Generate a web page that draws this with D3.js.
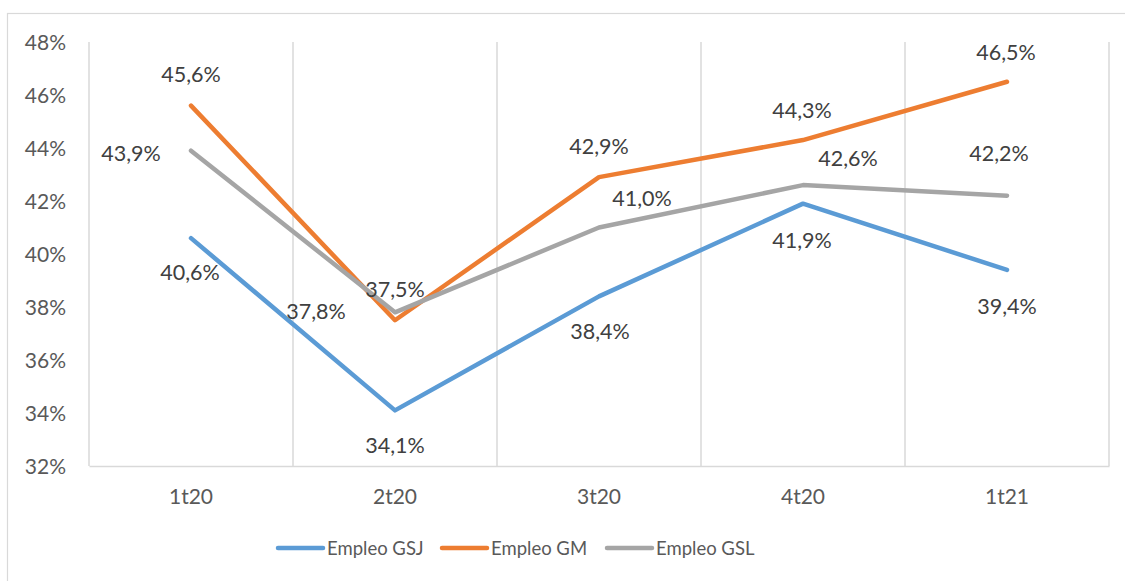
<!DOCTYPE html>
<html>
<head>
<meta charset="utf-8">
<script src="https://cdn.jsdelivr.net/npm/d3@7"></script>
<style>
  html, body { margin: 0; padding: 0; background: #fff; }
  svg { display: block; font-family: Lato, "Open Sans", sans-serif; }
</style>
</head>
<body>
<script>
const categories = ["1t20", "2t20", "3t20", "4t20", "1t21"];
const seriesNames = ["Empleo GSJ", "Empleo GM", "Empleo GSL"];
const gsj = [40.6, 34.1, 38.4, 41.9, 39.4];
const gm  = [45.6, 37.5, 42.9, 44.3, 46.5];
const gsl = [43.9, 37.8, 41.0, 42.6, 42.2];
const yTicks = [32, 34, 36, 38, 40, 42, 44, 46, 48];

// styling / label placement (kept separate from data)
const colors = ["#5B9BD5", "#ED7D31", "#A5A5A5"];
const labelOffsets = [
  [[-1, 34], [0, 35], [1, 35], [-1, 36], [0, 36]],
  [[0, -32], [0, -31], [0, -31], [-1, -30], [-1, -30]],
  [[-60, 2], [-79, -1], [43, -30], [45, -27], [-8, -43]]
];

const W = 1125, H = 581;
const svg = d3.select("body").append("svg").attr("width", W).attr("height", H);

// chart border
svg.append("rect").attr("x", 7.5).attr("y", 13.5).attr("width", W + 20).attr("height", H + 20)
  .attr("fill", "none").attr("stroke", "#d9d9d9").attr("stroke-width", 1.2);

const x = d3.scaleBand().domain(categories).range([89, 1109]).paddingInner(0).paddingOuter(0);
const y = d3.scaleLinear().domain([32, 48]).range([466, 42]);
const cx = c => x(c) + x.bandwidth() / 2;

// vertical gridlines at category boundaries
const bounds = categories.map(c => x(c)).concat([x(categories[categories.length - 1]) + x.bandwidth()]);
svg.append("g").selectAll("line").data(bounds).join("line")
  .attr("x1", d => d).attr("x2", d => d).attr("y1", y(48)).attr("y2", y(32))
  .attr("stroke", "#d9d9d9").attr("stroke-width", 1.5);

// y axis
const yAxis = svg.append("g").attr("transform", "translate(66,0)")
  .call(d3.axisLeft(y).tickValues(yTicks).tickSize(0).tickPadding(0).tickFormat(d => d + "%"));
yAxis.select(".domain").remove();
yAxis.selectAll("text").attr("fill", "#595959").attr("font-size", 21)
  .attr("font-family", "Lato, 'Open Sans', sans-serif").attr("dy", "0.35em");

// x axis
const xAxis = svg.append("g").attr("transform", `translate(0,${y(32)})`)
  .call(d3.axisBottom(x).tickSize(0).tickPadding(23));
xAxis.select(".domain").attr("stroke", "#d9d9d9").attr("stroke-width", 1.5);
xAxis.selectAll("text").attr("fill", "#595959").attr("font-size", 21)
  .attr("font-family", "Lato, 'Open Sans', sans-serif");

// lines
const allSeries = [gsj, gm, gsl];
const line = d3.line().x((d, i) => cx(categories[i])).y(d => y(d));
svg.append("g").selectAll("path").data(allSeries).join("path")
  .attr("d", d => line(d)).attr("fill", "none")
  .attr("stroke", (d, i) => colors[i]).attr("stroke-width", 4.5)
  .attr("stroke-linecap", "round").attr("stroke-linejoin", "round");

// data labels
const fmt = v => v.toFixed(1).replace(".", ",") + "%";
allSeries.forEach((vals, si) => {
  svg.append("g").selectAll("text").data(vals).join("text")
    .attr("x", (d, i) => cx(categories[i]) + labelOffsets[si][i][0])
    .attr("y", (d, i) => y(d) + labelOffsets[si][i][1])
    .attr("text-anchor", "middle").attr("dominant-baseline", "central")
    .attr("fill", "#404040").attr("font-size", 21.5)
    .text(d => fmt(d));
});

// legend
const legendX = [278, 442, 607];
const lg = svg.append("g").selectAll("g").data(seriesNames).join("g")
  .attr("transform", (d, i) => `translate(${legendX[i]},548)`);
lg.append("line").attr("x1", 0).attr("x2", 45).attr("y1", 0).attr("y2", 0)
  .attr("stroke", (d, i) => colors[i]).attr("stroke-width", 4.5).attr("stroke-linecap", "round");
lg.append("text").attr("x", 49).attr("y", 0).attr("dominant-baseline", "central")
  .attr("fill", "#595959").attr("font-size", 18.5).text(d => d);
</script>
</body>
</html>
